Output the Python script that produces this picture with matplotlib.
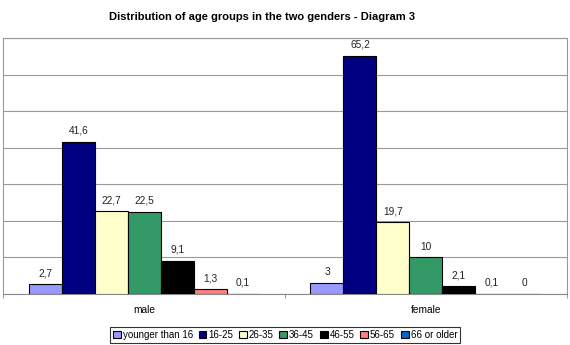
import numpy as np
import matplotlib.pyplot as plt

plt.rcParams["font.family"] = ["Liberation Sans", "DejaVu Sans"]

# =======================
# DATA
# =======================
genders = ["male", "female"]
age_groups = ["younger than 16", "16-25", "26-35", "36-45", "46-55", "56-65", "66 or older"]
male = [2.7, 41.6, 22.7, 22.5, 9.1, 1.3, 0.1]
female = [3, 65.2, 19.7, 10, 2.1, 0.1, 0]
colors = ["#9999FF", "#000080", "#FFFFCC", "#339966", "#000000", "#FF8080", "#0066CC"]


def fmt(v):
    s = f"{v:g}"
    return s.replace(".", ",")


fig = plt.figure(figsize=(5.7, 3.45), dpi=100)
ax = fig.add_axes([0.006, 0.148, 0.988, 0.742])

x = np.arange(len(genders))
width = 0.117
n = len(age_groups)
for i, (name, col) in enumerate(zip(age_groups, colors)):
    vals = [male[i], female[i]]
    pos = x + (i - (n - 1) / 2) * width
    ax.bar(pos, vals, width=width, color=col, edgecolor="black", linewidth=0.8,
           label=name, zorder=3)
    for p, v in zip(pos, vals):
        ax.text(p, v + 1.6, fmt(v), ha="center", va="bottom", fontsize=7.3, color="#222222")

ax.set_xlim(-0.5, 1.5)
ax.set_ylim(0, 70)
ax.set_yticks(np.arange(0, 71, 10))
ax.yaxis.grid(True, color="#999999", linewidth=0.8, zorder=0)
ax.tick_params(axis="y", left=False, labelleft=False)

ax.set_xticks(x)
ax.set_xticklabels(genders, fontsize=7.3)
ax.tick_params(axis="x", length=0, pad=8)
ax.set_xticks([-0.5, 0.5, 1.5], minor=True)
ax.tick_params(axis="x", which="minor", length=3, color="#888888")

for s in ax.spines.values():
    s.set_color("#999999")
    s.set_linewidth(0.8)
ax.spines["bottom"].set_color("#888888")

fig.text(0.459, 0.95, "Distribution of age groups in the two genders - Diagram 3",
         fontsize=8, fontweight="bold", ha="center", va="center")

leg = fig.legend(loc="lower center", bbox_to_anchor=(0.5, -0.007), ncol=7, fontsize=7,
                 handlelength=0.8, handleheight=0.8, handletextpad=0.2,
                 columnspacing=0.6, borderpad=0.3, frameon=True, fancybox=False,
                 edgecolor="#000000")
leg.get_frame().set_linewidth(0.8)

plt.savefig("out.png", dpi=100)
